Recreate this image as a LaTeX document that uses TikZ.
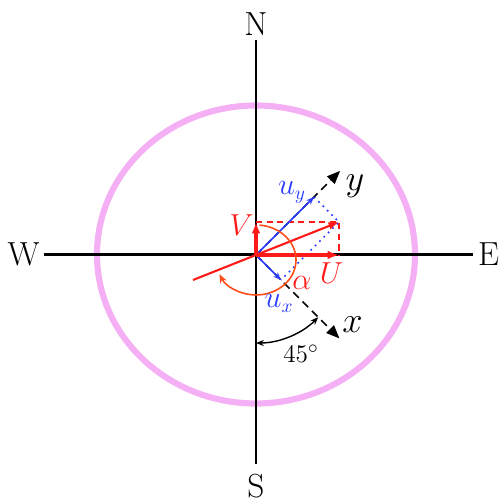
\documentclass[tikz,border=0pt]{standalone}
\usepackage{tikz}
\usetikzlibrary{arrows.meta}
\definecolor{ringpink}{HTML}{F5B0F5}
\definecolor{windred}{HTML}{FF1A1A}
\definecolor{compblue}{HTML}{2B3BFF}
\definecolor{arcorange}{HTML}{FF4D1A}

\begin{document}
\begin{tikzpicture}[
  x=0.02cm, y=0.02cm,
  compass/.style={inner sep=2pt, font=\fontsize{19}{22}\selectfont},
  axislabel/.style={inner sep=0pt, font=\fontsize{19.5}{22}\selectfont},
  lbl/.style={inner sep=0pt, font=\fontsize{16}{19}\selectfont},
  ring/.style={draw=ringpink, line width=3.5pt},
  mainline/.style={line width=1.7pt},
  rotaxis/.style={line width=0.9pt, dash pattern=on 4.5pt off 3pt, -{Triangle[length=7.5pt,width=6pt]}},
  uv/.style={windred, line width=2pt, -{Latex[length=6.5pt,width=5pt]}},
  windvec/.style={windred, line width=1.2pt, -{Latex[length=6pt,width=4.5pt]}},
  reddash/.style={windred, line width=0.9pt, dash pattern=on 3.5pt off 2.5pt},
  comp/.style={compblue, line width=0.9pt, -{Stealth[length=4.5pt,width=3.5pt]}},
  bluedot/.style={compblue, line width=0.9pt, dash pattern=on 1pt off 2.5pt},
  alphaarc/.style={arcorange, line width=0.9pt, -{Stealth[length=5pt,width=4pt]}},
  anglearc/.style={line width=0.8pt, {Stealth[length=4.5pt,width=3.5pt]}-{Stealth[length=4.5pt,width=3.5pt]}}
]
\useasboundingbox (-256,-247) rectangle (244,255);
\coordinate (O) at (0,0);

\node[compass] (N) at (0,230.5) {N};
\node[compass] (S) at (0,-231) {S};
\node[compass] (W) at (-232.5,0.5) {W};
\node[compass] (E) at (232.5,0.5) {E};

\draw[ring] (0,0.5) ellipse [x radius=159, y radius=149];

\draw[mainline, shorten >=3.5pt] (N.south) -- (S.north);
\draw[mainline, shorten <=0.5pt, shorten >=0.8pt] (W.east) -- (E.west);

\coordinate (xtip) at (-45:118);
\coordinate (ytip) at (45:119);
\draw[rotaxis] (O) -- (xtip);
\draw[rotaxis] (O) -- (ytip);
\node[axislabel] (xlbl) at (96.5,-69.5) {$x$};
\node[axislabel] (ylbl) at (99,69) {$y$};

\coordinate (wind) at (83,33);
\coordinate (tail) at (-63,-25);
\coordinate (Utip) at (83,0);
\coordinate (Vtip) at (0,33);
\coordinate (uxtip) at (25,-25);
\coordinate (uytip) at (58,58);

\draw[reddash] (Vtip) -- (wind) -- (Utip);
\draw[bluedot] (uytip) -- (wind) -- (uxtip);
\draw[comp] (O) -- (uxtip);
\draw[comp] (O) -- (uytip);
\draw[windvec] (tail) -- (wind);
\draw[uv] (O) -- (Utip);
\draw[uv] (O) -- (Vtip);

\coordinate (arcstart) at (3.5,29.9);
\draw[alphaarc] (arcstart) arc[start angle=85, end angle=-156, x radius=40, y radius=35];

\coordinate (southarc) at (0,-88);
\draw[anglearc] (southarc) arc[start angle=-90, end angle=-45, radius=88];

\node[lbl, windred] (Vlbl) at (-14.5,30) {$V$};
\node[lbl, windred] (Ulbl) at (75.5,-18.5) {$U$};
\node[lbl, windred] (alphalbl) at (46,-27.5) {$\alpha$};
\node[lbl, compblue] (uxlbl) at (23,-48.5) {$u_x$};
\node[lbl, compblue] (uylbl) at (36,62.5) {$u_y$};
\node[lbl, font=\fontsize{15}{18}\selectfont] (anglelbl) at (45,-98.5) {$45^{\circ}$};
\end{tikzpicture}
\end{document}
